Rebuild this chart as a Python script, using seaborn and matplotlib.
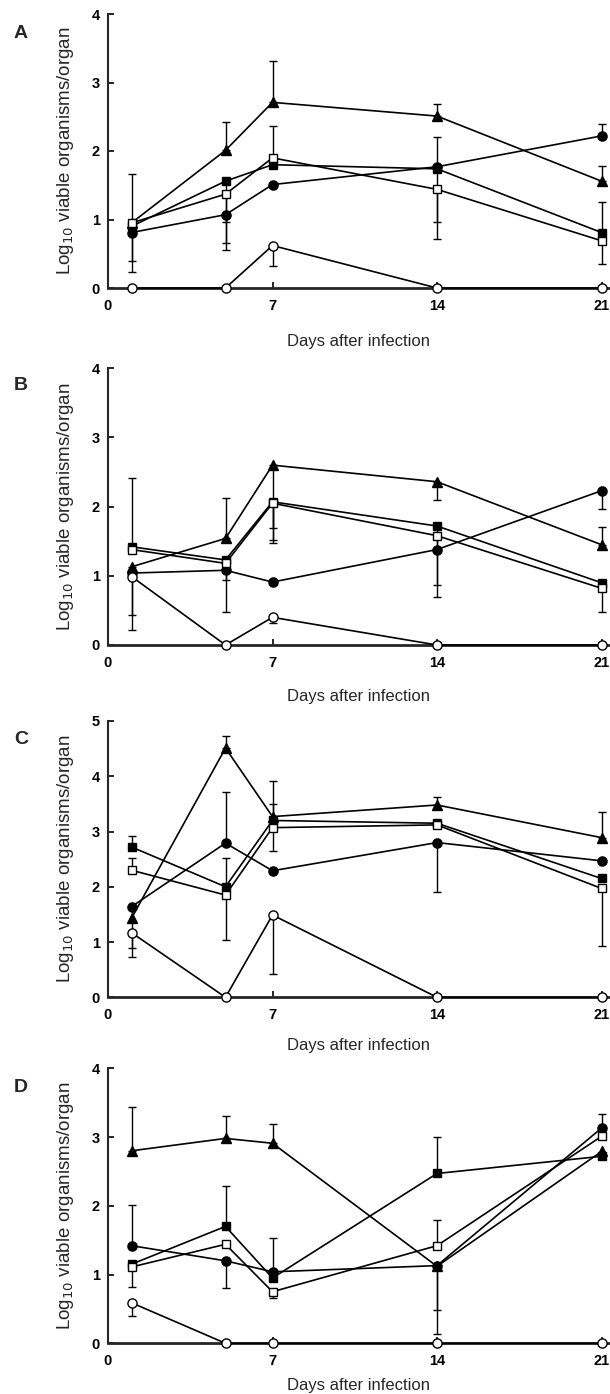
import matplotlib
matplotlib.use("Agg")
import matplotlib.pyplot as plt
import seaborn as sns

# ---------------- data ----------------
days = [1, 5, 7, 14, 21]
x_ticks = [0, 7, 14, 21]
panel_labels = ["A", "B", "C", "D"]
y_tops = [4, 4, 5, 4]

# signed error bars: positive -> upward bar, negative -> downward bar, 0 -> none
# Panel A
A_tri = [0.95, 2.01, 2.71, 2.51, 1.56]
A_tri_err = [0.71, 0.41, 0.60, 0.18, 0.22]
A_fsq = [0.90, 1.56, 1.80, 1.74, 0.81]
A_fsq_err = [0, -0.60, 0, -0.77, 0.45]
A_osq = [0.95, 1.37, 1.90, 1.44, 0.69]
A_osq_err = [-0.56, -0.71, 0.47, -0.73, -0.34]
A_fci = [0.81, 1.07, 1.51, 1.77, 2.22]
A_fci_err = [-0.57, -0.51, 0, 0.43, 0.17]
A_oci = [0, 0, 0.62, 0, 0]
A_oci_err = [0, 0, -0.30, 0, 0]

# Panel B
B_tri = [1.13, 1.54, 2.60, 2.36, 1.45]
B_tri_err = [-0.91, 0.59, -0.91, -0.27, 0.25]
B_fsq = [1.42, 1.23, 2.07, 1.72, 0.90]
B_fsq_err = [1.00, -0.29, -0.60, -0.85, -0.43]
B_osq = [1.38, 1.18, 2.05, 1.58, 0.82]
B_osq_err = [0, 0, -0.53, -0.88, 0]
B_fci = [1.04, 1.08, 0.91, 1.38, 2.23]
B_fci_err = [-0.61, -0.61, 0, 0, -0.26]
B_oci = [0.99, 0, 0.40, 0, 0]
B_oci_err = [0, 0, -0.08, 0, 0]

# Panel C
C_tri = [1.43, 4.51, 3.27, 3.48, 2.89]
C_tri_err = [0, 0.21, 0.65, 0.14, 0.47]
C_fsq = [2.72, 2.00, 3.20, 3.15, 2.15]
C_fsq_err = [0.19, 0.52, 0.29, 0, 0]
C_osq = [2.30, 1.85, 3.07, 3.12, 1.97]
C_osq_err = [0.22, -0.81, -0.43, 0, -1.05]
C_fci = [1.64, 2.79, 2.29, 2.80, 2.47]
C_fci_err = [-0.75, 0.93, 0, -0.89, 0]
C_oci = [1.17, 0, 1.49, 0, 0]
C_oci_err = [-0.44, 0, -1.07, 0, 0]

# Panel D
D_tri = [2.80, 2.98, 2.91, 1.12, 2.79]
D_tri_err = [0.63, 0.32, 0.28, -0.64, 0]
D_fsq = [1.15, 1.70, 0.95, 2.47, 2.72]
D_fsq_err = [0, 0.59, 0, 0.53, 0]
D_osq = [1.11, 1.44, 0.75, 1.42, 3.01]
D_osq_err = [-0.29, 0, -0.09, 0.37, 0]
D_fci = [1.42, 1.20, 1.04, 1.13, 3.13]
D_fci_err = [0.59, -0.39, 0.49, -1.00, 0.20]
D_oci = [0.59, 0, 0, 0, 0]
D_oci_err = [-0.20, 0, 0, 0, 0]

panels = [
    [(A_fci, A_fci_err), (A_tri, A_tri_err), (A_fsq, A_fsq_err), (A_osq, A_osq_err), (A_oci, A_oci_err)],
    [(B_fci, B_fci_err), (B_tri, B_tri_err), (B_fsq, B_fsq_err), (B_osq, B_osq_err), (B_oci, B_oci_err)],
    [(C_fci, C_fci_err), (C_tri, C_tri_err), (C_fsq, C_fsq_err), (C_osq, C_osq_err), (C_oci, C_oci_err)],
    [(D_fci, D_fci_err), (D_tri, D_tri_err), (D_fsq, D_fsq_err), (D_osq, D_osq_err), (D_oci, D_oci_err)],
]
# marker, face colour, zorder (same order as in panels)
styles = [("o", "black", 4), ("^", "black", 4), ("s", "black", 4), ("s", "white", 5), ("o", "white", 5)]
marker_sizes = {"o": 6.6, "^": 7.0, "s": 6.2}

# ---------------- style ----------------
sns.set_style("ticks")
plt.rcParams["font.family"] = ["Liberation Sans", "DejaVu Sans"]

W, H = 610, 1394
fig = plt.figure(figsize=(W / 100, H / 100), dpi=100)

left_px, x_per_day = 108, 23.5
xmax = 21.3
# (bottom_px, top_px) of each axes in image pixels
ax_boxes = [(288, 14), (645, 368.3), (997.3, 721), (1343.3, 1068.3)]
label_pads = [15, 13.5, 11.5, 7]
panel_label_y = [33, 386, 740, 1087]

for i, (series, (bot, top)) in enumerate(zip(panels, ax_boxes)):
    ax = fig.add_axes([left_px / W, 1 - bot / H, xmax * x_per_day / W, (bot - top) / H])
    for (vals, errs), (mk, fc, z) in zip(series, styles):
        sns.lineplot(x=days, y=vals, ax=ax, color="black", linewidth=1.2,
                     marker=mk, markersize=marker_sizes[mk], markerfacecolor=fc,
                     markeredgecolor="black", markeredgewidth=1.0,
                     zorder=z, clip_on=False, legend=False)
        for d, v, e in zip(days, vals, errs):
            if e == 0:
                continue
            lo = -e if e < 0 else 0
            hi = e if e > 0 else 0
            ax.errorbar([d], [v], yerr=[[lo], [hi]], fmt="none", ecolor="black",
                        elinewidth=1.0, capsize=2.6, capthick=1.0, zorder=3, clip_on=False)
    ax.set_xlim(0, xmax)
    ax.set_ylim(0, y_tops[i])
    ax.set_xticks(x_ticks)
    ax.set_xticklabels([str(t) for t in x_ticks], fontweight="bold")
    ax.set_yticks(list(range(y_tops[i] + 1)))
    ax.set_yticklabels([str(t) for t in range(y_tops[i] + 1)], fontweight="bold")
    ax.tick_params(axis="both", direction="in", length=4, width=1.2,
                   labelsize=10.5, colors="black")
    ax.tick_params(axis="x", pad=8)
    ax.tick_params(axis="y", pad=6)
    sns.despine(ax=ax)
    ax.spines["left"].set_linewidth(1.5)
    ax.spines["bottom"].set_linewidth(2.0)
    ax.spines["left"].set_bounds(0, y_tops[i])
    ax.set_xlabel("Days after infection", fontsize=12, labelpad=label_pads[i])
    ax.set_ylabel(r"Log$_{10}$ viable organisms/organ", fontsize=13.5, labelpad=11)
    ax.patch.set_alpha(0)
    fig.text(21 / W, 1 - panel_label_y[i] / H, panel_labels[i], fontsize=14,
             fontweight="bold", ha="center", va="center")

fig.savefig("out.png", dpi=100)
